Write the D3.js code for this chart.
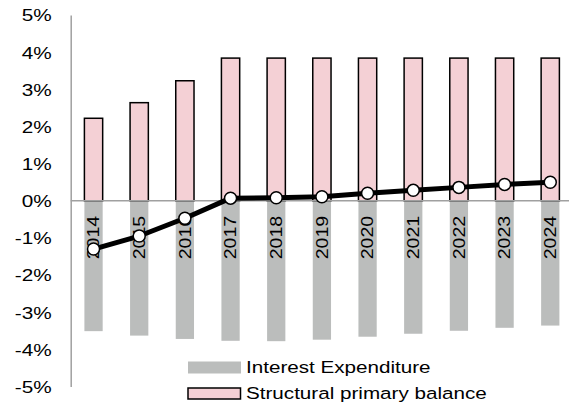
<!DOCTYPE html>
<html>
<head>
<meta charset="utf-8">
<script src="https://cdn.jsdelivr.net/npm/d3@7"></script>
<style>
  html, body { margin: 0; padding: 0; background: #fff; }
  svg { display: block; font-family: "Liberation Sans", Arial, sans-serif; }
</style>
</head>
<body>
<svg id="chart" width="569" height="408"></svg>
<script>
// Fiscal balance components, % of GDP
const years = ["2014","2015","2016","2017","2018","2019","2020","2021","2022","2023","2024"];
const structuralPrimary = [2.22, 2.64, 3.23, 3.84, 3.84, 3.84, 3.84, 3.84, 3.84, 3.84, 3.84];
const interestExpenditure = [-3.51, -3.63, -3.72, -3.77, -3.78, -3.74, -3.66, -3.58, -3.50, -3.42, -3.36];
const headlineBalance = [-1.30, -0.95, -0.47, 0.07, 0.08, 0.11, 0.20, 0.28, 0.36, 0.44, 0.50];
const yTicks = [-5, -4, -3, -2, -1, 0, 1, 2, 3, 4, 5];
const legendItems = ["Interest Expenditure", "Structural primary balance"];

const svg = d3.select("#chart");
const STRETCH = 1.2; // wide-set lettering

const x = d3.scaleBand().domain(years).range([70.7, 573.1]).paddingInner(0.6).paddingOuter(0.3);
const y = d3.scaleLinear().domain([-5, 5]).range([386.5, 15]);
const cx = d => x(d) + x.bandwidth() / 2;

// Y axis line and labels
const yAxis = d3.axisLeft(y).tickValues(yTicks).tickSize(0).tickFormat(d => d + "%");
const gy = svg.append("g").attr("transform", "translate(70.7,0)").call(yAxis);
gy.select(".domain").attr("stroke", "#a0a0a0").attr("stroke-width", 1.5);
gy.selectAll(".tick text")
  .attr("x", null).attr("dy", null)
  .attr("fill", "#000")
  .attr("font-size", 17.3)
  .attr("text-anchor", "end")
  .attr("dominant-baseline", "central")
  .attr("transform", `translate(-19,0) scale(${STRETCH},1)`);

// Interest expenditure bars (below zero)
svg.append("g").selectAll("rect")
  .data(years.map((yr, i) => ({ yr, v: interestExpenditure[i] })))
  .join("rect")
  .attr("x", d => x(d.yr))
  .attr("y", y(0))
  .attr("width", x.bandwidth())
  .attr("height", d => y(d.v) - y(0))
  .attr("fill", "#bbbdbc");

// Structural primary balance bars (above zero)
svg.append("g").selectAll("rect")
  .data(years.map((yr, i) => ({ yr, v: structuralPrimary[i] })))
  .join("rect")
  .attr("x", d => x(d.yr))
  .attr("y", d => y(d.v))
  .attr("width", x.bandwidth())
  .attr("height", d => y(0) - y(d.v))
  .attr("fill", "#f4d0d5")
  .attr("stroke", "#000")
  .attr("stroke-width", 1.5);

// Zero line
svg.append("line")
  .attr("x1", 70.7).attr("x2", 569)
  .attr("y1", y(0)).attr("y2", y(0))
  .attr("stroke", "#a0a0a0").attr("stroke-width", 1.5);

// Year labels, rotated, hanging below the zero line
svg.append("g").selectAll("text")
  .data(years)
  .join("text")
  .attr("transform", d => `translate(${cx(d)},${y(0) + 15}) rotate(-90) scale(${STRETCH},1)`)
  .attr("text-anchor", "end")
  .attr("dy", "0.35em")
  .attr("font-size", 16.3)
  .attr("fill", "#000")
  .text(d => d);

// Headline balance line with markers
const line = d3.line().x((d, i) => cx(years[i])).y(d => y(d));
svg.append("path")
  .datum(headlineBalance)
  .attr("d", line)
  .attr("fill", "none")
  .attr("stroke", "#000")
  .attr("stroke-width", 5)
  .attr("stroke-linejoin", "round");
svg.append("g").selectAll("circle")
  .data(headlineBalance)
  .join("circle")
  .attr("cx", (d, i) => cx(years[i]))
  .attr("cy", d => y(d))
  .attr("r", 6)
  .attr("fill", "#fff")
  .attr("stroke", "#000")
  .attr("stroke-width", 1.5);

// Legend
const legend = svg.append("g");
const swatchX = 188, swatchW = 53, rowY = [367.5, 393.5];
legend.append("rect")
  .attr("x", swatchX).attr("y", rowY[0] - 6).attr("width", swatchW).attr("height", 12)
  .attr("fill", "#bbbdbc");
legend.append("rect")
  .attr("x", swatchX).attr("y", rowY[1] - 5.5).attr("width", swatchW - 0.5).attr("height", 11)
  .attr("fill", "#f4d0d5").attr("stroke", "#000").attr("stroke-width", 1.5);
legend.selectAll("text")
  .data(legendItems)
  .join("text")
  .attr("transform", (d, i) => `translate(246,${rowY[i]}) scale(${STRETCH},1)`)
  .attr("dominant-baseline", "central")
  .attr("font-size", 17.2)
  .attr("fill", "#000")
  .text(d => d);
</script>
</body>
</html>
